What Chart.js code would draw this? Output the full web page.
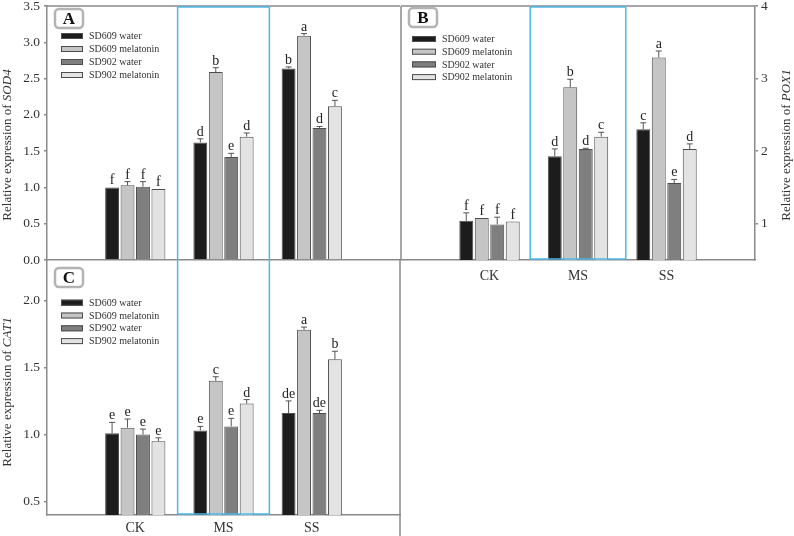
<!DOCTYPE html>
<html>
<head>
<meta charset="utf-8">
<script src="https://cdn.jsdelivr.net/npm/chart.js@4.4.1/dist/chart.umd.min.js"></script>
<style>
  body { margin: 0; background: #fff; }
  #wrap { position: relative; width: 794px; height: 536px; overflow: hidden; background: #fff; }
  canvas { position: absolute; }
</style>
</head>
<body>
<div id="wrap">
  <canvas id="chartA" width="402" height="274" style="left:0;top:0"></canvas>
  <canvas id="chartB" width="396" height="292" style="left:398px;top:0"></canvas>
  <canvas id="chartC" width="402" height="278" style="left:0;top:258px"></canvas>
</div>
<script>
// categorias e series
const categories = ['CK', 'MS', 'SS'];
const seriesNames = ['SD609 water', 'SD609 melatonin', 'SD902 water', 'SD902 melatonin'];

// A - SOD4 (uma linha por serie, valores CK / MS / SS)
const sod4Values = [[1.00, 1.62, 2.64], [1.03, 2.59, 3.09], [1.01, 1.42, 1.82], [0.98, 1.70, 2.12]];
const sod4Errors = [[0.00, 0.05, 0.02], [0.05, 0.06, 0.03], [0.07, 0.05, 0.02], [0.00, 0.05, 0.08]];
const sod4Letters = [['f', 'd', 'b'], ['f', 'b', 'a'], ['f', 'e', 'd'], ['f', 'd', 'c']];
const sod4Ticks = ['0.0', '0.5', '1.0', '1.5', '2.0', '2.5', '3.0', '3.5'];

// B - POX1
const pox1Values = [[1.04, 1.93, 2.30], [1.08, 2.88, 3.29], [0.99, 2.03, 1.56], [1.03, 2.20, 2.03]];
const pox1Errors = [[0.11, 0.10, 0.09], [0.00, 0.11, 0.09], [0.10, 0.01, 0.05], [0.00, 0.06, 0.07]];
const pox1Letters = [['f', 'd', 'c'], ['f', 'b', 'a'], ['f', 'd', 'e'], ['f', 'c', 'd']];
const pox1Ticks = ['1', '2', '3', '4'];

// C - CAT1
const cat1Values = [[1.01, 1.03, 1.16], [1.05, 1.40, 1.78], [1.00, 1.06, 1.16], [0.95, 1.23, 1.56]];
const cat1Errors = [[0.08, 0.03, 0.09], [0.065, 0.03, 0.02], [0.04, 0.06, 0.02], [0.025, 0.03, 0.06]];
const cat1Letters = [['e', 'e', 'de'], ['e', 'c', 'a'], ['e', 'e', 'de'], ['e', 'd', 'b']];
const cat1Ticks = ['0.5', '1.0', '1.5', '2.0'];

const SERIF = '"Liberation Serif", "DejaVu Serif", serif';
const LINE = '#8a8a8a';
const BLUE = '#4db8ea';
const barColors = ['#1c1c1c', '#c5c5c5', '#7f7f7f', '#e3e3e3'];

// desenha barras de erro, letras, legenda, caixa do painel e titulo do eixo
const panelDecor = {
    id: 'panelDecor',
    afterDatasetsDraw(chart, args, opts) {
        const ctx = chart.ctx;
        const yScale = chart.scales.y;
        ctx.save();
        ctx.font = '14px ' + SERIF;
        ctx.textAlign = 'center';
        ctx.textBaseline = 'alphabetic';
        chart.data.datasets.forEach((ds, i) => {
            chart.getDatasetMeta(i).data.forEach((bar, j) => {
                const v = ds.data[j];
                if (v == null) return;
                const e = ds.err[j] || 0;
                const yTop = yScale.getPixelForValue(v + e);
                if (e > 0) {
                    ctx.strokeStyle = '#555';
                    ctx.lineWidth = 1;
                    ctx.beginPath();
                    ctx.moveTo(bar.x, bar.y);
                    ctx.lineTo(bar.x, yTop);
                    ctx.moveTo(bar.x - 3, yTop);
                    ctx.lineTo(bar.x + 3, yTop);
                    ctx.stroke();
                }
                ctx.fillStyle = '#222';
                ctx.fillText(ds.letters[j], bar.x, yTop - 3);
            });
        });
        ctx.restore();
    },
    afterDraw(chart, args, opts) {
        const ctx = chart.ctx;
        const a = chart.chartArea;
        const x = chart.scales.x;
        ctx.save();

        // linhas extras da moldura
        ctx.strokeStyle = LINE;
        ctx.lineWidth = 1.5;
        ctx.beginPath();
        if (opts.frameTop) { ctx.moveTo(a.left, a.top); ctx.lineTo(a.right, a.top); }
        if (opts.frameLeft) { ctx.moveTo(a.left, a.top); ctx.lineTo(a.left, a.bottom); }
        if (opts.frameRight) { ctx.moveTo(a.right, a.top); ctx.lineTo(a.right, chart.height); }
        ctx.stroke();

        // retangulo azul em volta de MS
        const slot = x.getPixelForValue(1) - x.getPixelForValue(0);
        const cx = x.getPixelForValue(2);
        const x1 = cx - opts.hlHalf * slot, x2 = cx + opts.hlHalf * slot;
        const t = a.top + 1, b = a.bottom - 1;
        ctx.strokeStyle = BLUE;
        ctx.lineWidth = 1.5;
        ctx.beginPath();
        ctx.moveTo(x1, opts.hlTop ? t : a.top);
        ctx.lineTo(x1, opts.hlBottom ? b : a.bottom);
        ctx.moveTo(x2, opts.hlTop ? t : a.top);
        ctx.lineTo(x2, opts.hlBottom ? b : a.bottom);
        if (opts.hlTop) { ctx.moveTo(x1, t); ctx.lineTo(x2, t); }
        if (opts.hlBottom) { ctx.moveTo(x1, b); ctx.lineTo(x2, b); }
        ctx.stroke();

        // legenda dentro do grafico
        ctx.font = '10px ' + SERIF;
        ctx.textAlign = 'left';
        ctx.textBaseline = 'middle';
        chart.data.datasets.forEach((ds, i) => {
            const lx = a.left + opts.legX;
            const ly = a.top + opts.legY + i * opts.legGap;
            ctx.fillStyle = ds.backgroundColor;
            ctx.fillRect(lx, ly - 3, opts.swW, 6);
            ctx.strokeStyle = '#4d4d4d';
            ctx.lineWidth = 1;
            ctx.strokeRect(lx + 0.5, ly - 2.5, opts.swW - 1, 5);
            ctx.fillStyle = '#333';
            ctx.fillText(ds.label, lx + opts.swW + 6, ly + 0.5);
        });

        // caixa com a letra do painel
        const bx = a.left + opts.boxX, by = a.top + opts.boxY;
        ctx.fillStyle = '#fff';
        ctx.strokeStyle = '#b3b3b3';
        ctx.lineWidth = 2.5;
        ctx.beginPath();
        ctx.roundRect(bx, by, 28, 19, 4);
        ctx.fill();
        ctx.stroke();
        ctx.fillStyle = '#111';
        ctx.font = 'bold 17px ' + SERIF;
        ctx.textAlign = 'center';
        ctx.textBaseline = 'middle';
        ctx.fillText(opts.panel, bx + 14, by + 10.5);

        // titulo do eixo y, com o nome do gene em italico
        const normalFont = '13px ' + SERIF, italicFont = 'italic 13px ' + SERIF;
        ctx.font = normalFont;
        const w1 = ctx.measureText(opts.title).width;
        ctx.font = italicFont;
        const w2 = ctx.measureText(opts.gene).width;
        ctx.translate(opts.titleX, opts.titleY);
        ctx.rotate(-Math.PI / 2);
        ctx.fillStyle = '#333';
        ctx.textAlign = 'left';
        ctx.textBaseline = 'middle';
        ctx.font = normalFont;
        ctx.fillText(opts.title, -(w1 + w2) / 2, 0);
        ctx.font = italicFont;
        ctx.fillText(opts.gene, -(w1 + w2) / 2 + w1, 0);
        ctx.restore();
    }
};

function noPad(s) {
    s.paddingTop = 0;
    s.paddingBottom = 0;
    s.paddingLeft = 0;
    s.paddingRight = 0;
}

function makePanel(canvasId, p) {
    const datasets = seriesNames.map((name, i) => ({
        label: name,
        data: [null, ...p.values[i], null],
        err: [null, ...p.errors[i], null],
        letters: ['', ...p.letters[i], ''],
        backgroundColor: barColors[i],
        borderColor: '#4d4d4d',
        borderWidth: 1,
        categoryPercentage: 0.7,
        barPercentage: 0.9
    }));

    const tickValues = p.ticks.map(Number);

    new Chart(document.getElementById(canvasId).getContext('2d'), {
        type: 'bar',
        data: { labels: ['', ...categories, ''], datasets: datasets },
        plugins: [panelDecor],
        options: {
            responsive: false,
            animation: false,
            layout: { padding: p.padding },
            plugins: {
                legend: { display: false },
                tooltip: { enabled: false },
                panelDecor: p.decor
            },
            scales: {
                x: {
                    offset: false,
                    grid: { display: false, drawTicks: false },
                    border: { display: true, color: LINE, width: 1.5 },
                    ticks: {
                        display: p.showX,
                        color: '#333',
                        padding: p.xPad,
                        font: { family: SERIF, size: 14 },
                        autoSkip: false,
                        maxRotation: 0
                    },
                    afterFit: s => { s.height = p.xHeight; noPad(s); }
                },
                y: {
                    position: p.yPos,
                    min: p.min,
                    max: p.max,
                    afterBuildTicks: s => { s.ticks = tickValues.map(v => ({ value: v })); },
                    grid: { display: true, drawOnChartArea: false, drawTicks: true, tickLength: 3, color: LINE, lineWidth: 1.5 },
                    border: { display: true, color: LINE, width: 1.5 },
                    ticks: {
                        color: '#333',
                        padding: p.yPad,
                        font: { family: SERIF, size: 13.5 },
                        callback: (v) => p.ticks[tickValues.indexOf(v)]
                    },
                    afterFit: s => { s.width = p.yWidth; noPad(s); }
                }
            }
        }
    });
}

makePanel('chartA', {
    values: sod4Values, errors: sod4Errors, letters: sod4Letters, ticks: sod4Ticks,
    min: 0, max: 3.5, yPos: 'left', yWidth: 47, yPad: 4,
    showX: false, xHeight: 14, xPad: 0,
    padding: { top: 6, right: 2, left: 0, bottom: 0 },
    decor: {
        panel: 'A', title: 'Relative expression of ', gene: 'SOD4', titleX: 8, titleY: 145,
        legX: 14, legY: 30, legGap: 13, swW: 22, boxX: 8, boxY: 3,
        hlHalf: 0.52, hlTop: true, hlBottom: false,
        frameTop: true, frameLeft: false, frameRight: false
    }
});

makePanel('chartB', {
    values: pox1Values, errors: pox1Errors, letters: pox1Letters, ticks: pox1Ticks,
    min: 0.5, max: 4, yPos: 'right', yWidth: 39, yPad: 3,
    showX: true, xHeight: 32, xPad: 8,
    padding: { top: 6, right: 0, left: 3, bottom: 0 },
    decor: {
        panel: 'B', title: 'Relative expression of ', gene: 'POX1', titleX: 389, titleY: 145,
        legX: 11, legY: 33, legGap: 12.7, swW: 24, boxX: 8, boxY: 2,
        hlHalf: 0.54, hlTop: true, hlBottom: true,
        frameTop: true, frameLeft: true, frameRight: false
    }
});

makePanel('chartC', {
    values: cat1Values, errors: cat1Errors, letters: cat1Letters, ticks: cat1Ticks,
    min: 0.4, max: 2.3, yPos: 'left', yWidth: 47, yPad: 4,
    showX: true, xHeight: 21, xPad: 5,
    padding: { top: 2, right: 2, left: 0, bottom: 0 },
    decor: {
        panel: 'C', title: 'Relative expression of ', gene: 'CAT1', titleX: 8, titleY: 134,
        legX: 14, legY: 42.7, legGap: 12.8, swW: 22, boxX: 8, boxY: 8,
        hlHalf: 0.52, hlTop: false, hlBottom: true,
        frameTop: false, frameLeft: false, frameRight: true
    }
});
</script>
</body>
</html>
